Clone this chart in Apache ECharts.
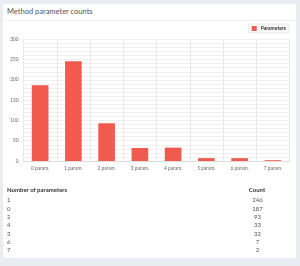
<!DOCTYPE html>
<html><head><meta charset="utf-8">
<script src="https://cdn.jsdelivr.net/npm/echarts@6/dist/echarts.min.js"></script>
<style>
html,body{margin:0;padding:0;width:300px;height:266px;background:#e9edf2;overflow:hidden;font-family:Lato,"Noto Sans",sans-serif;}
#card{position:absolute;left:3px;top:4px;width:293px;height:254px;background:#fff;border-radius:2px;}
#title{position:absolute;left:4px;top:3px;font-size:7.5px;color:#555;line-height:10px;}
#sep{position:absolute;left:0;right:0;top:16px;border-top:1px solid #f0f0f0;}
#chart{position:absolute;left:0;top:0;width:300px;height:266px;}
.t{position:absolute;font-size:6px;color:#555;line-height:7px;white-space:nowrap;}
.h{font-weight:bold;color:#333;}
</style></head>
<body>
<div id="card"><div id="title">Method parameter counts</div><div id="sep"></div></div>
<div id="chart"></div>
<div id="table"></div>
<script>
var categories = ['0 param.','1 param.','2 param.','3 param.','4 param.','5 param.','6 param.','7 param.'];
var paramValues = [187, 246, 93, 32, 33, 7, 7, 2];
var seriesName = 'Parameters';
var tableHeaders = ['Number of parameters', 'Count'];
var tableKeys = ['1','0','2','4','3','6','7'];
var tableCounts = [246, 187, 93, 33, 32, 7, 2];

var chart = echarts.init(document.getElementById('chart'), null, {renderer:'canvas'});
chart.setOption({
  animation:false,
  backgroundColor:'transparent',
  textStyle:{fontFamily:'Lato'},
  legend:{
    right:11, top:24, data:[seriesName],
    itemWidth:5, itemHeight:5, itemGap:3,
    padding:[2,3,2,3],
    borderColor:'#ddd', borderWidth:0.6, backgroundColor:'#f9f9f9',
    textStyle:{fontSize:5, fontWeight:'bold', color:'#333', padding:[0,0,0,-1]},
    icon:'rect'
  },
  grid:{left:23.5, right:10.5, top:39.3, bottom:105, containLabel:false},
  xAxis:{
    type:'category', data:categories,
    axisLine:{lineStyle:{color:'#ddd'}},
    axisTick:{show:false},
    axisLabel:{fontSize:4.8, color:'#666', margin:5},
    splitLine:{show:true, lineStyle:{color:'#e8e8e8', width:1}}
  },
  yAxis:{
    type:'value', min:0, max:300, interval:10,
    axisLine:{show:false}, axisTick:{show:false},
    axisLabel:{fontSize:4.8, color:'#666', margin:5, formatter:function(v){return v%50===0? String(v):'';}},
    splitLine:{lineStyle:{color:'#f0f0f0', width:1}}
  },
  series:[{
    name:seriesName, type:'bar', data:paramValues, barWidth:'50%',
    itemStyle:{color:'#f05a4f'}
  }]
});

var tbl = document.getElementById('table');
function addText(txt, x, y, cls, center){
  var d = document.createElement('div');
  d.className = 't' + (cls? ' '+cls:'');
  d.textContent = txt;
  d.style.top = (y-3.5)+'px';
  if(center){ d.style.left = (x-20)+'px'; d.style.width='40px'; d.style.textAlign='center'; }
  else d.style.left = x+'px';
  tbl.appendChild(d);
}
addText(tableHeaders[0], 7, 189, 'h');
addText(tableHeaders[1], 257, 189, 'h', true);
for (var i=0;i<tableKeys.length;i++){
  var y = 199.7 + i*8.33;
  addText(tableKeys[i], 7, y);
  addText(String(tableCounts[i]), 257.5, y, '', true);
}
</script>
</body></html>
